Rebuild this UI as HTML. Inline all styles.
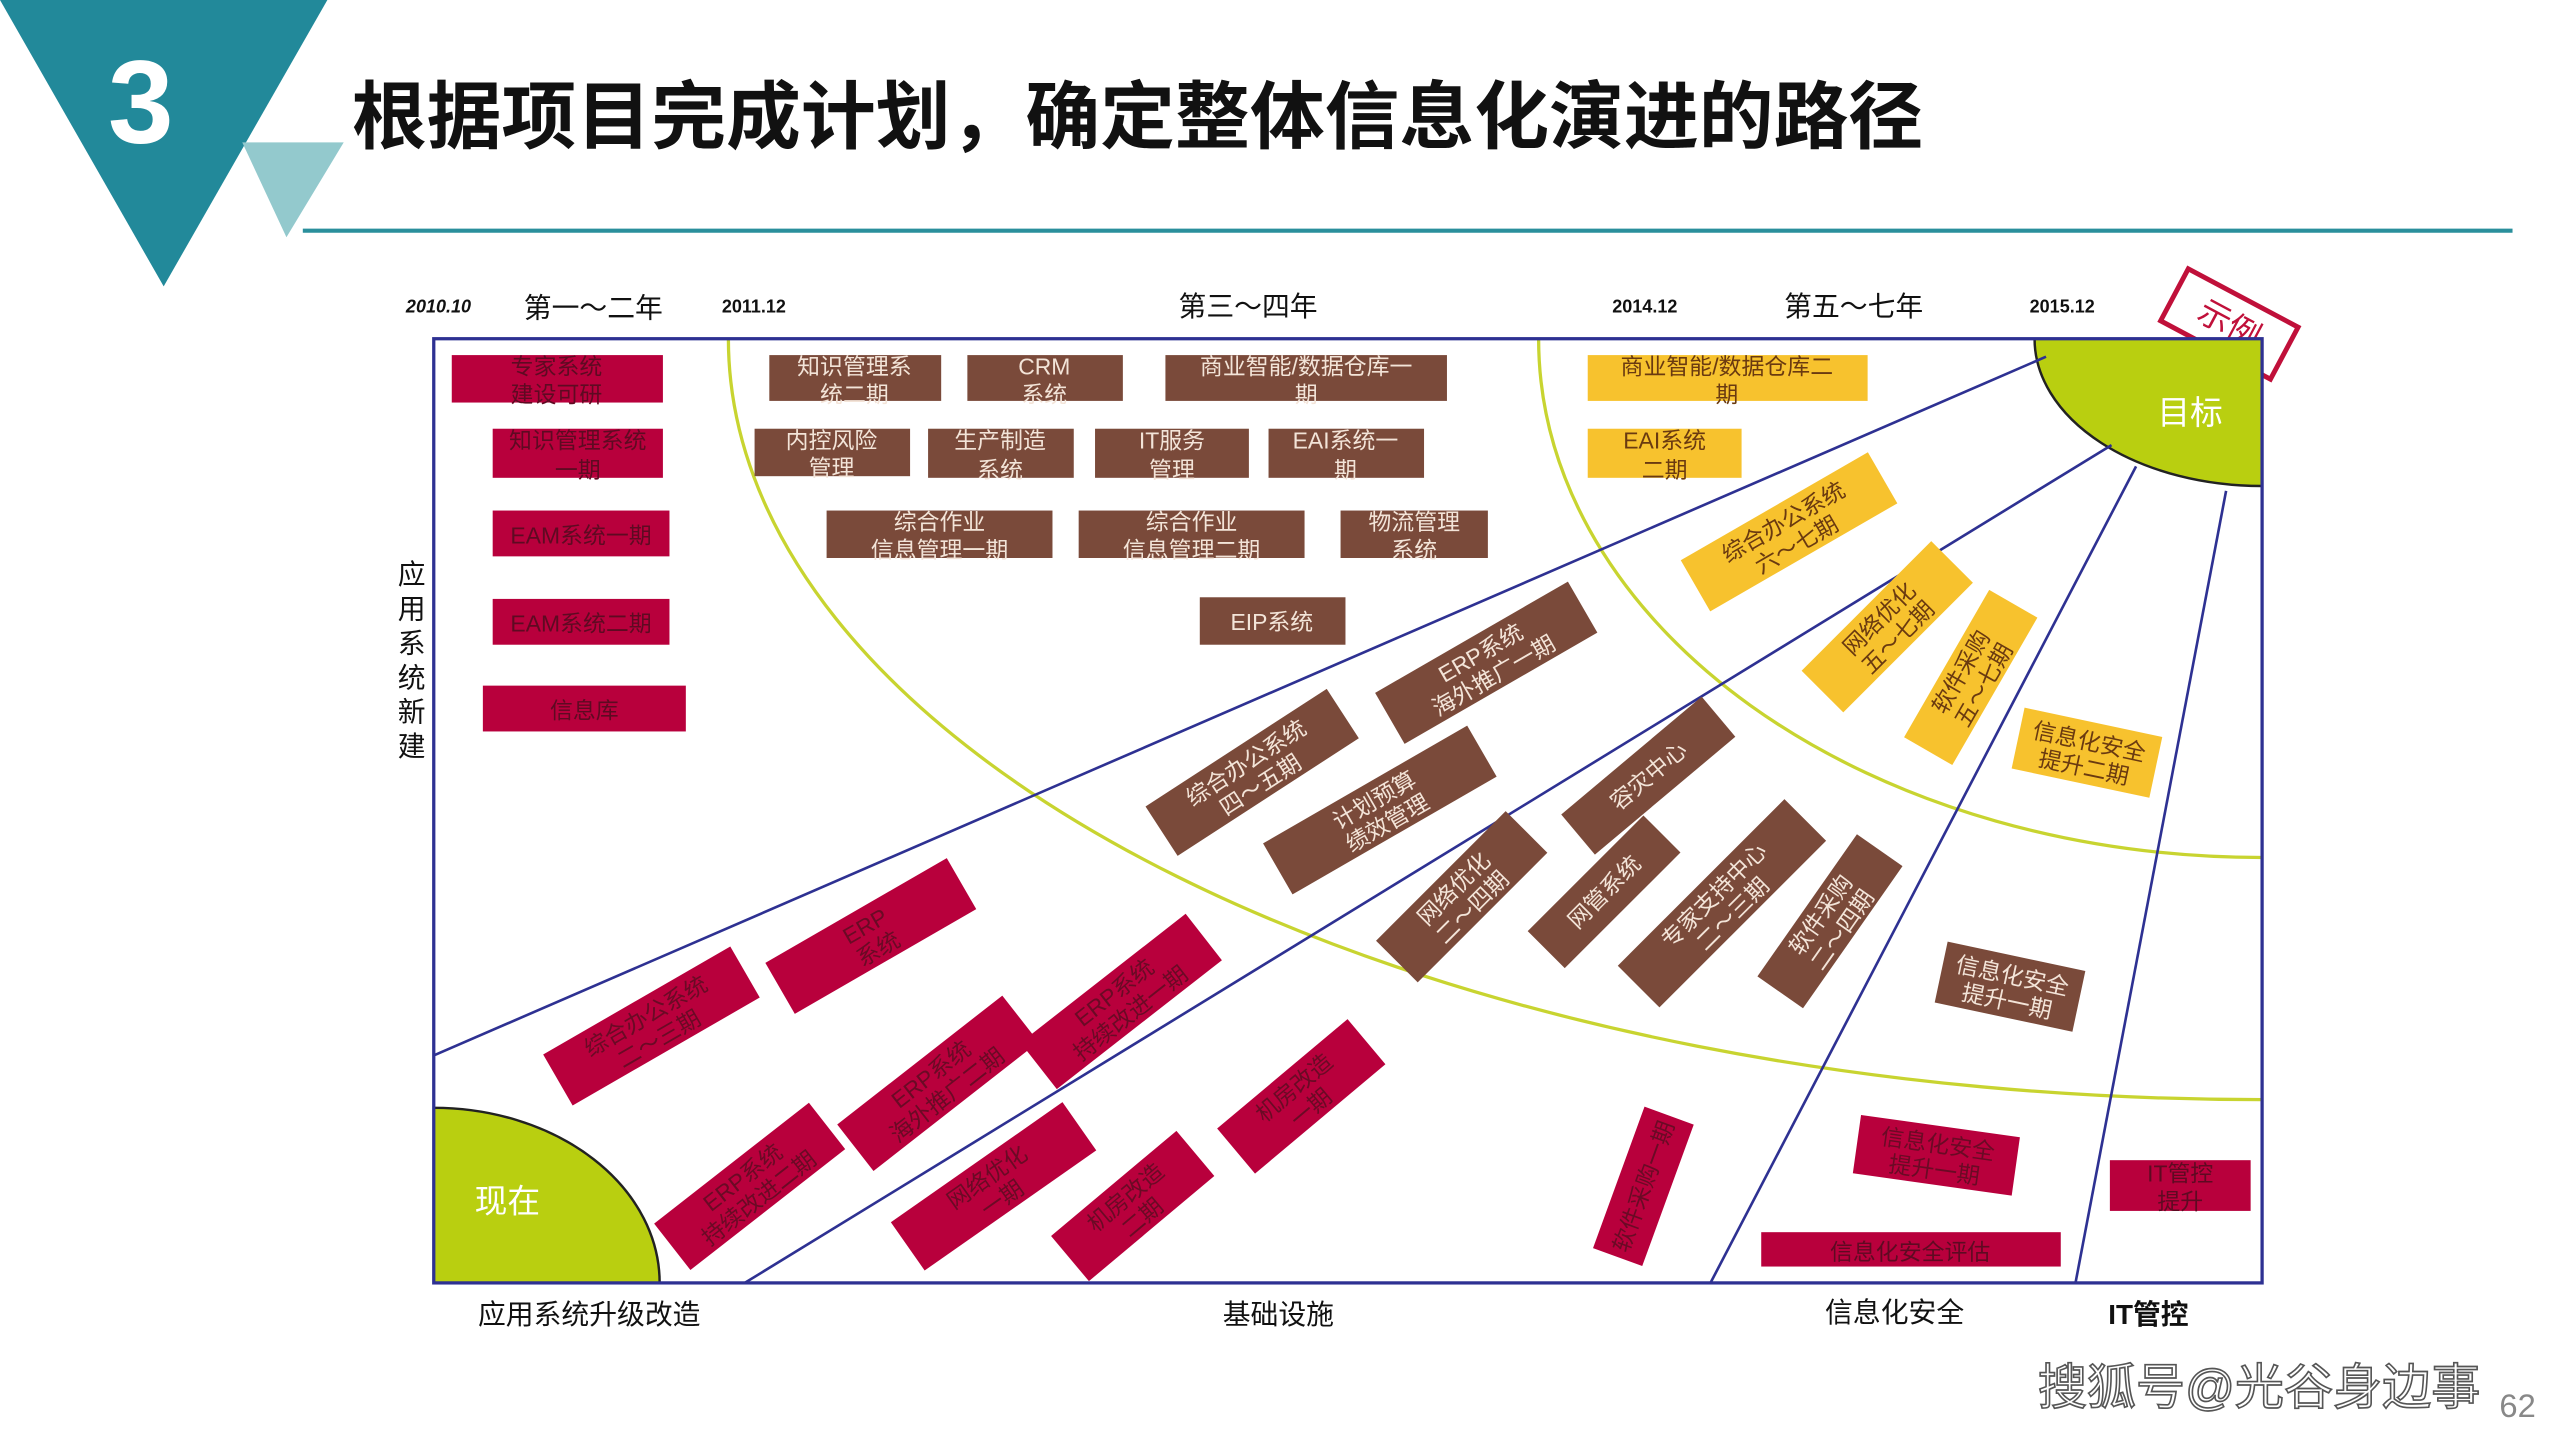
<!DOCTYPE html>
<html><head><meta charset="utf-8"><style>
html,body{margin:0;padding:0;background:#fff;}
svg{display:block;}
text{font-family:"Liberation Sans","Noto Sans CJK SC",sans-serif;}
</style></head><body>
<svg width="2560" height="1440" viewBox="0 0 1564 880" preserveAspectRatio="none" xmlns="http://www.w3.org/2000/svg">
<defs>
<clipPath id="fr"><rect x="265" y="207" width="1117" height="577"/></clipPath>
</defs>
<!-- header -->
<polygon points="0,0 200,0 100,175" fill="#22899a"/>
<polygon points="148,87 210,87 175,145" fill="#93c9cd"/>
<text x="86" y="87" font-size="72" font-weight="bold" fill="#fff" text-anchor="middle">3</text>
<text x="215" y="87" font-size="45" font-weight="bold" fill="#111" textLength="960" lengthAdjust="spacingAndGlyphs">根据项目完成计划，确定整体信息化演进的路径</text>
<line x1="185" y1="141" x2="1535" y2="141" stroke="#2a8f9c" stroke-width="2.5"/>

<!-- year labels -->
<g font-size="17" fill="#111">
<text x="248" y="191" font-size="11" font-weight="bold" font-style="italic">2010.10</text>
<text x="320" y="194">第一～二年</text>
<text x="441" y="191" font-size="11" font-weight="bold">2011.12</text>
<text x="720" y="193">第三～四年</text>
<text x="985" y="191" font-size="11" font-weight="bold">2014.12</text>
<text x="1090" y="193">第五～七年</text>
<text x="1240" y="191" font-size="11" font-weight="bold">2015.12</text>
</g>
<!-- stamp -->
<g transform="translate(1362,198) rotate(28)">
<rect x="-38" y="-18" width="76" height="36" fill="#fff" stroke="#c0103a" stroke-width="3"/>
<text x="0" y="7" font-size="20" fill="#c0103a" text-anchor="middle">示例</text>
</g>

<!-- diagram inside frame -->
<g clip-path="url(#fr)">
<ellipse cx="1382" cy="207" rx="139" ry="90" fill="#b9cf10" stroke="#222" stroke-width="1.5"/>
<ellipse cx="265" cy="784" rx="138" ry="107" fill="#b9cf10" stroke="#222" stroke-width="1.5"/>
<ellipse cx="1382" cy="207" rx="937" ry="465" fill="none" stroke="#c8d430" stroke-width="2"/>
<ellipse cx="1382" cy="207" rx="442" ry="317" fill="none" stroke="#c8d430" stroke-width="2"/>
</g>
<g stroke="#2e3192" stroke-width="1.6">
<line x1="265" y1="645" x2="1250" y2="218"/>
<line x1="455" y1="784" x2="1290" y2="272"/>
<line x1="1045" y1="784" x2="1305" y2="285"/>
<line x1="1268" y1="784" x2="1360" y2="300"/>
</g>
<rect x="265" y="207" width="1117" height="577" fill="none" stroke="#2e3192" stroke-width="2"/>
<text x="1318" y="259" font-size="20" fill="#fff">目标</text>
<text x="290" y="741" font-size="20" fill="#fff">现在</text>

<!-- straight boxes -->
<g font-size="14" text-anchor="middle">
<g fill="#b8003c">
<rect x="276" y="217" width="129" height="29"/><rect x="301" y="262" width="104" height="30"/>
<rect x="301" y="312" width="108" height="28"/><rect x="301" y="366" width="108" height="28"/>
<rect x="295" y="419" width="124" height="28"/>
<rect x="1076" y="753" width="183" height="21"/><rect x="1289" y="709" width="86" height="31"/>
</g>
<g fill="#5e0a22">
<text x="340" y="229">专家系统</text><text x="340" y="246">建设可研</text>
<text x="353" y="274">知识管理系统</text><text x="353" y="292">一期</text>
<text x="355" y="332">EAM系统一期</text><text x="355" y="386">EAM系统二期</text>
<text x="357" y="439">信息库</text>
<text x="1167" y="770">信息化安全评估</text>
<text x="1332" y="722">IT管控</text><text x="1332" y="739">提升</text>
</g>
<g fill="#7a4a3a">
<rect x="470" y="217" width="105" height="28"/><rect x="591" y="217" width="95" height="28"/>
<rect x="712" y="217" width="172" height="28"/>
<rect x="461" y="262" width="95" height="29"/><rect x="567" y="262" width="89" height="30"/>
<rect x="669" y="262" width="94" height="30"/><rect x="775" y="262" width="95" height="30"/>
<rect x="505" y="312" width="138" height="29"/><rect x="659" y="312" width="138" height="29"/>
<rect x="819" y="312" width="90" height="29"/>
<rect x="733" y="365" width="89" height="29"/>
</g>
<g fill="#f3e4d8">
<text x="522" y="229">知识管理系</text><text x="522" y="246">统二期</text>
<text x="638" y="229">CRM</text><text x="638" y="246">系统</text>
<text x="798" y="229">商业智能/数据仓库一</text><text x="798" y="246">期</text>
<text x="508" y="274">内控风险</text><text x="508" y="291">管理</text>
<text x="611" y="274">生产制造</text><text x="611" y="292">系统</text>
<text x="716" y="274">IT服务</text><text x="716" y="292">管理</text>
<text x="822" y="274">EAI系统一</text><text x="822" y="292">期</text>
<text x="574" y="324">综合作业</text><text x="574" y="341">信息管理一期</text>
<text x="728" y="324">综合作业</text><text x="728" y="341">信息管理二期</text>
<text x="864" y="324">物流管理</text><text x="864" y="341">系统</text>
<text x="777" y="385">EIP系统</text>
</g>
<g fill="#f7c22e">
<rect x="970" y="217" width="171" height="28"/><rect x="970" y="262" width="94" height="30"/>
</g>
<g fill="#6a3a10">
<text x="1055" y="229">商业智能/数据仓库二</text><text x="1055" y="246">期</text>
<text x="1017" y="274">EAI系统</text><text x="1017" y="292">二期</text>
</g>
</g>

<!-- rotated boxes -->
<g font-size="14" text-anchor="middle">
<g transform="translate(765,472) rotate(-33)"><rect x="-66" y="-18" width="132" height="36" fill="#7a4a3a"/><text y="-2" fill="#f3e4d8">综合办公系统</text><text y="14" fill="#f3e4d8">四～五期</text></g>
<g transform="translate(908,405) rotate(-30)"><rect x="-68" y="-18" width="136" height="36" fill="#7a4a3a"/><text y="-2" fill="#f3e4d8">ERP系统</text><text y="14" fill="#f3e4d8">海外推广一期</text></g>
<g transform="translate(843,495) rotate(-30)"><rect x="-72" y="-18" width="144" height="36" fill="#7a4a3a"/><text y="-2" fill="#f3e4d8">计划预算</text><text y="14" fill="#f3e4d8">绩效管理</text></g>
<g transform="translate(1007,474) rotate(-40)"><rect x="-56" y="-16" width="112" height="32" fill="#7a4a3a"/><text y="5" fill="#f3e4d8">容灾中心</text></g>
<g transform="translate(893,548) rotate(-45)"><rect x="-56" y="-18" width="112" height="36" fill="#7a4a3a"/><text y="-2" fill="#f3e4d8">网络优化</text><text y="14" fill="#f3e4d8">二～四期</text></g>
<g transform="translate(980,545) rotate(-45)"><rect x="-50" y="-16" width="100" height="32" fill="#7a4a3a"/><text y="5" fill="#f3e4d8">网管系统</text></g>
<g transform="translate(1052,552) rotate(-45)"><rect x="-72" y="-18" width="144" height="36" fill="#7a4a3a"/><text y="-2" fill="#f3e4d8">专家支持中心</text><text y="14" fill="#f3e4d8">二～三期</text></g>
<g transform="translate(1118,563) rotate(-55)"><rect x="-53" y="-17" width="106" height="34" fill="#7a4a3a"/><text y="-2" fill="#f3e4d8">软件采购</text><text y="14" fill="#f3e4d8">二～四期</text></g>
<g transform="translate(1228,603) rotate(12)"><rect x="-43" y="-19" width="86" height="38" fill="#7a4a3a"/><text y="-2" fill="#f3e4d8">信息化安全</text><text y="14" fill="#f3e4d8">提升一期</text></g>
<g transform="translate(1093,325) rotate(-30)"><rect x="-66" y="-18" width="132" height="36" fill="#f7c22e"/><text y="-2" fill="#6a3a10">综合办公系统</text><text y="14" fill="#6a3a10">六～七期</text></g>
<g transform="translate(1153,383) rotate(-45)"><rect x="-56" y="-18" width="112" height="36" fill="#f7c22e"/><text y="-2" fill="#6a3a10">网络优化</text><text y="14" fill="#6a3a10">五～七期</text></g>
<g transform="translate(1204,414) rotate(-60)"><rect x="-52" y="-17" width="104" height="34" fill="#f7c22e"/><text y="-2" fill="#6a3a10">软件采购</text><text y="14" fill="#6a3a10">五～七期</text></g>
<g transform="translate(1275,460) rotate(12)"><rect x="-43" y="-19" width="86" height="38" fill="#f7c22e"/><text y="-2" fill="#6a3a10">信息化安全</text><text y="14" fill="#6a3a10">提升二期</text></g>
<g transform="translate(398,627) rotate(-30)"><rect x="-66" y="-18" width="132" height="36" fill="#b8003c"/><text y="-2" fill="#6a0a25">综合办公系统</text><text y="14" fill="#6a0a25">二～三期</text></g>
<g transform="translate(532,572) rotate(-30)"><rect x="-64" y="-18" width="128" height="36" fill="#b8003c"/><text y="-2" fill="#6a0a25">ERP</text><text y="14" fill="#6a0a25">系统</text></g>
<g transform="translate(685,612) rotate(-38)"><rect x="-64" y="-18" width="128" height="36" fill="#b8003c"/><text y="-2" fill="#6a0a25">ERP系统</text><text y="14" fill="#6a0a25">持续改进一期</text></g>
<g transform="translate(573,662) rotate(-38)"><rect x="-64" y="-18" width="128" height="36" fill="#b8003c"/><text y="-2" fill="#6a0a25">ERP系统</text><text y="14" fill="#6a0a25">海外推广二期</text></g>
<g transform="translate(458,725) rotate(-38)"><rect x="-60" y="-18" width="120" height="36" fill="#b8003c"/><text y="-2" fill="#6a0a25">ERP系统</text><text y="14" fill="#6a0a25">持续改进二期</text></g>
<g transform="translate(795,670) rotate(-40)"><rect x="-52" y="-18" width="104" height="36" fill="#b8003c"/><text y="-2" fill="#6a0a25">机房改造</text><text y="14" fill="#6a0a25">一期</text></g>
<g transform="translate(607,725) rotate(-35)"><rect x="-64" y="-18" width="128" height="36" fill="#b8003c"/><text y="-2" fill="#6a0a25">网络优化</text><text y="14" fill="#6a0a25">一期</text></g>
<g transform="translate(692,737) rotate(-40)"><rect x="-50" y="-18" width="100" height="36" fill="#b8003c"/><text y="-2" fill="#6a0a25">机房改造</text><text y="14" fill="#6a0a25">二期</text></g>
<g transform="translate(1004,725) rotate(-70)"><rect x="-46" y="-16" width="92" height="32" fill="#b8003c"/><text y="5" fill="#6a0a25">软件采购一期</text></g>
<g transform="translate(1183,706) rotate(8)"><rect x="-49" y="-18" width="98" height="36" fill="#b8003c"/><text y="-2" fill="#6a0a25">信息化安全</text><text y="14" fill="#6a0a25">提升一期</text></g>
</g>

<!-- axis labels -->
<g font-size="17" fill="#111">
<text x="292" y="809">应用系统升级改造</text>
<text x="747" y="809">基础设施</text>
<text x="1115" y="808">信息化安全</text>
<text x="1288" y="809" font-weight="bold">IT管控</text>
<text x="243" y="357">应</text><text x="243" y="378">用</text><text x="243" y="399">系</text>
<text x="243" y="420">统</text><text x="243" y="441">新</text><text x="243" y="462">建</text>
</g>
<text x="1245" y="858" font-size="30" fill="#fff" stroke="#555" stroke-width="1">搜狐号@光谷身边事</text>
<text x="1527" y="866" font-size="20" fill="#888">62</text>
</svg>
</body></html>
